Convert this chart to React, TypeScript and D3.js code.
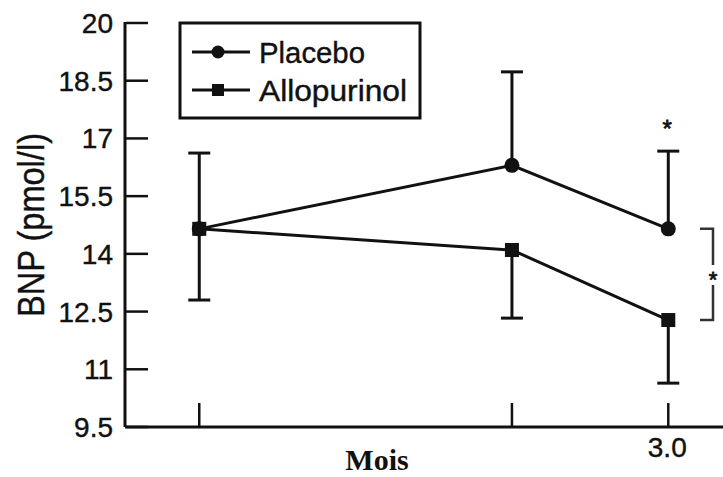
import React from "react";
import * as d3 from "d3";

const months = [0, 2, 3];
const yTicks = [9.5, 11, 12.5, 14, 15.5, 17, 18.5, 20];
const xTickLabels = ["", "", "3.0"];
const placebo = [14.65, 16.3, 14.65];
const placeboErrUp = [1.97, 2.43, 2.02];
const allopurinol = [14.65, 14.1, 12.28];
const allopurinolErrDown = [1.85, 1.77, 1.64];
const seriesNames = ["Placebo", "Allopurinol"];

const W = 723;
const H = 477;
const INK = "#111";

export default function App() {
  const x = d3.scaleLinear().domain([-0.475, 3.35]).range([125, 723]);
  const y = d3.scaleLinear().domain([9.5, 20]).range([427, 23]);
  const line = d3
    .line<number>()
    .x((_, i) => x(months[i]))
    .y((d) => y(d));
  const fmt = d3.format("");
  const capW = 11;

  return (
    <svg
      width={W}
      height={H}
      style={{ position: "absolute", left: 0, top: 0, background: "#fff" }}
      fontFamily="'Liberation Sans', Arial, sans-serif"
    >
      <rect width={W} height={H} fill="#fff" />
      {/* axes */}
      <line x1={x(-0.475)} x2={x(-0.475)} y1={y(20) - 1} y2={y(9.5)} stroke={INK} strokeWidth={3} />
      <line x1={x(-0.475)} x2={W} y1={y(9.5)} y2={y(9.5)} stroke={INK} strokeWidth={3} />
      {yTicks.map((t) => (
        <g key={t}>
          <line x1={126} x2={148} y1={y(t)} y2={y(t)} stroke={INK} strokeWidth={2.5} />
          <text x={113} y={y(t) + 10} fontSize={28} textAnchor="end" fill={INK} stroke={INK} strokeWidth={0.4}>
            {fmt(t)}
          </text>
        </g>
      ))}
      {months.map((m, i) => (
        <g key={m}>
          <line x1={x(m)} x2={x(m)} y1={y(9.5)} y2={y(9.5) - 24} stroke={INK} strokeWidth={2.5} />
          {xTickLabels[i] && (
            <text x={x(m) - 1} y={457} fontSize={28} textAnchor="middle" fill={INK} stroke={INK} strokeWidth={0.4}>
              {xTickLabels[i]}
            </text>
          )}
        </g>
      ))}
      {/* axis titles */}
      <text
        x={377}
        y={470}
        fontFamily="'Liberation Serif', 'Times New Roman', serif"
        fontWeight="bold"
        fontSize={30}
        textAnchor="middle"
        fill={INK}
      >
        Mois
      </text>
      <text
        transform={`translate(44,${225}) rotate(-90)`}
        fontSize={36}
        textAnchor="middle"
        textLength={184}
        lengthAdjust="spacingAndGlyphs"
        fill={INK}
        stroke={INK}
        strokeWidth={0.4}
      >
        BNP (pmol/l)
      </text>

      {/* error bars */}
      {months.map((m, i) => {
        const top = y(placebo[i] + placeboErrUp[i]);
        return (
          <g key={"pe" + m}>
            <line x1={x(m)} x2={x(m)} y1={y(placebo[i])} y2={top} stroke={INK} strokeWidth={3} />
            <line x1={x(m) - capW} x2={x(m) + capW} y1={top} y2={top} stroke={INK} strokeWidth={3} />
          </g>
        );
      })}
      {months.map((m, i) => {
        const bot = y(allopurinol[i] - allopurinolErrDown[i]);
        return (
          <g key={"ae" + m}>
            <line x1={x(m)} x2={x(m)} y1={y(allopurinol[i])} y2={bot} stroke={INK} strokeWidth={3} />
            <line x1={x(m) - capW} x2={x(m) + capW} y1={bot} y2={bot} stroke={INK} strokeWidth={3} />
          </g>
        );
      })}

      {/* lines */}
      <path d={line(placebo) || ""} fill="none" stroke={INK} strokeWidth={3} />
      <path d={line(allopurinol) || ""} fill="none" stroke={INK} strokeWidth={3} />
      {placebo.map((v, i) => (
        <circle key={"pc" + i} cx={x(months[i])} cy={y(v)} r={7.5} fill={INK} />
      ))}
      {allopurinol.map((v, i) => (
        <rect key={"ar" + i} x={x(months[i]) - 7} y={y(v) - 7} width={14} height={14} fill={INK} />
      ))}

      {/* significance */}
      <text x={x(3) - 1} y={137} fontSize={24} textAnchor="middle" fill={INK} stroke={INK} strokeWidth={0.8}>
        *
      </text>
      <path
        d={`M700,${y(placebo[2])} H713 V${y(13.5) - 8} M713,${y(13.5) + 12} V${y(allopurinol[2])} H700`}
        fill="none"
        stroke="#333"
        strokeWidth={2.5}
      />
      <text x={713} y={y(13.5) + 14} fontSize={22} textAnchor="middle" fill={INK} stroke={INK} strokeWidth={0.8}>
        *
      </text>

      {/* legend */}
      <rect x={180} y={23} width={240} height={95} fill="#fff" stroke={INK} strokeWidth={3} />
      {seriesNames.map((name, i) => {
        const ly = i === 0 ? 52 : 90;
        return (
          <g key={name}>
            <line x1={192} x2={250} y1={ly} y2={ly} stroke={INK} strokeWidth={3} />
            {i === 0 ? (
              <circle cx={218} cy={ly} r={6.5} fill={INK} />
            ) : (
              <rect x={212} y={ly - 6} width={12} height={12} fill={INK} />
            )}
            <text
              x={259}
              y={ly + 11}
              fontSize={30}
              textLength={i === 0 ? 106 : 148}
              lengthAdjust="spacingAndGlyphs"
              fill={INK}
              stroke={INK}
              strokeWidth={0.4}
            >
              {name}
            </text>
          </g>
        );
      })}
    </svg>
  );
}
